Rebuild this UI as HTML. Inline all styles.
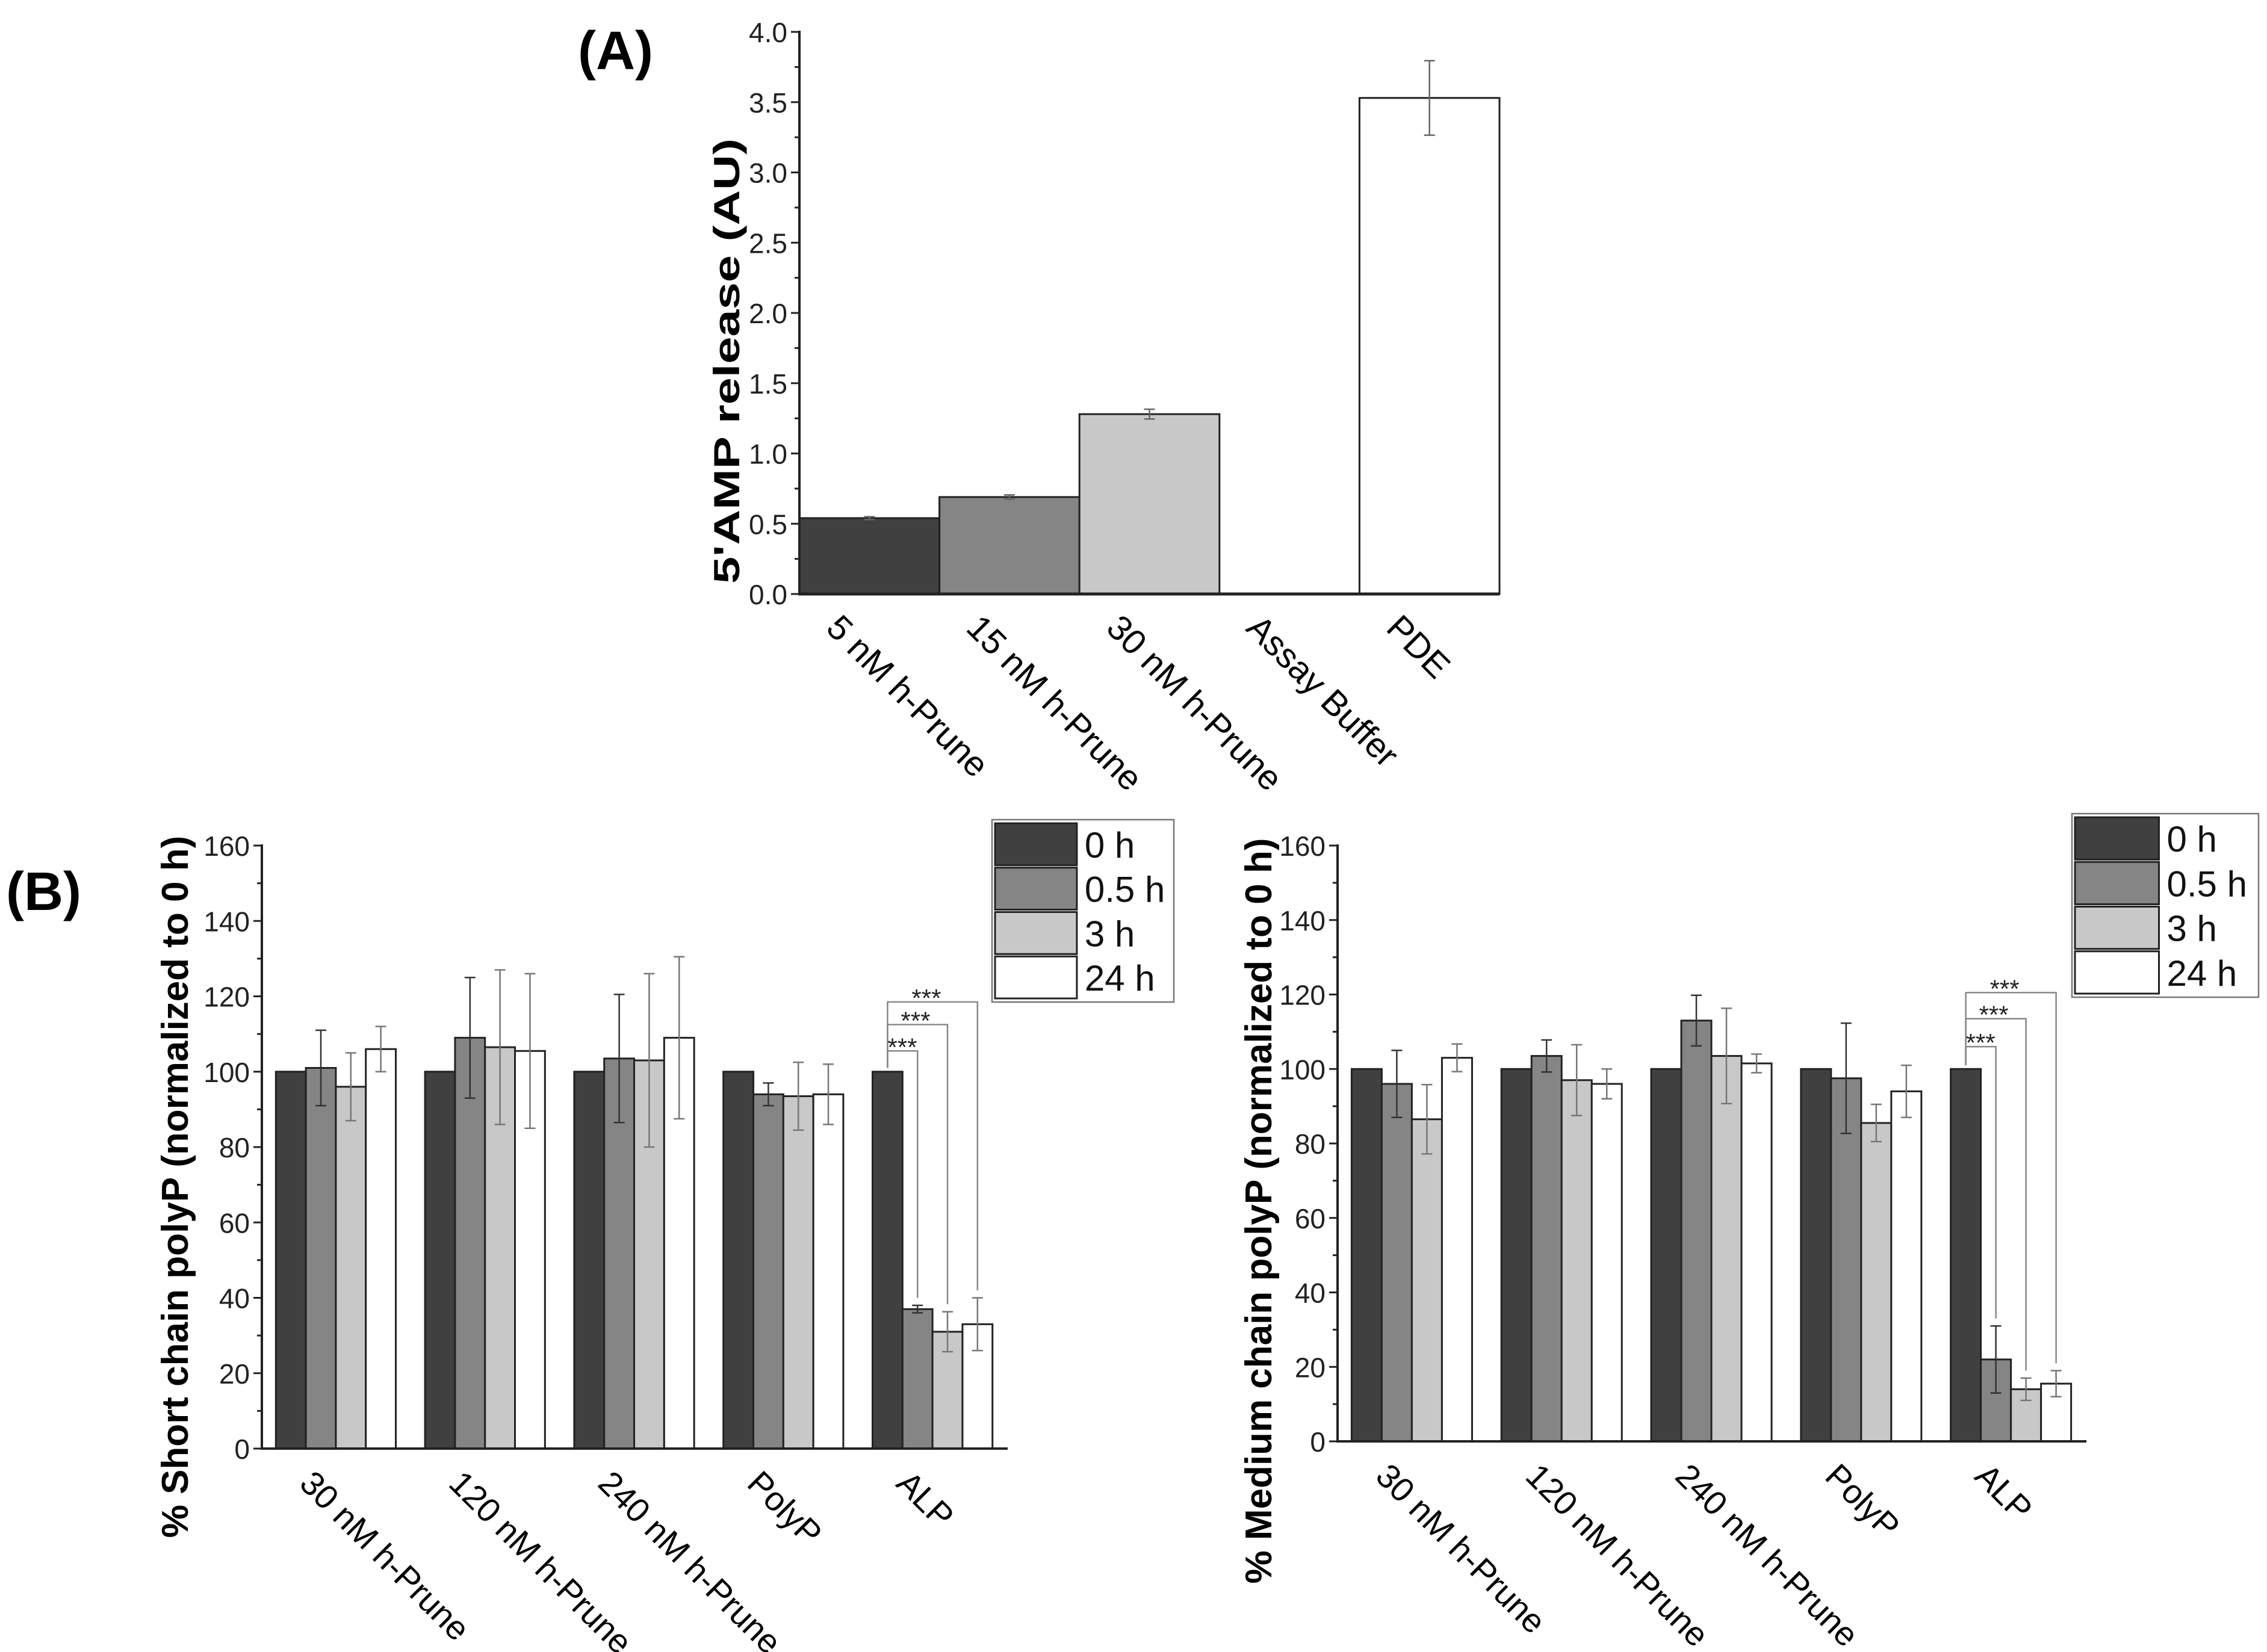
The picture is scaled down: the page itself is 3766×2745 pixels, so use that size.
<!DOCTYPE html>
<html><head><meta charset="utf-8">
<style>
html,body{margin:0;padding:0;background:#fff;}
svg{display:block;font-family:"Liberation Sans",Arial,sans-serif;}
</style></head>
<body>
<svg id="fig" width="3766" height="2745" viewBox="0 0 3766 2745" xmlns="http://www.w3.org/2000/svg">
<rect width="3766" height="2745" fill="#fff"/>
<text x="960" y="115" font-size="90" font-weight="bold">(A)</text>
<text x="10" y="1512" font-size="90" font-weight="bold">(B)</text>
<g id="chartA"></g>
<g id="chartB1"></g>
<g id="chartB2"></g>
</svg>
<script>
// Panel A data
const aCategories = ["5 nM h-Prune","15 nM h-Prune","30 nM h-Prune","Assay Buffer","PDE"];
const aValues = [0.54, 0.69, 1.28, 0, 3.53];
const aErrors = [0.01, 0.015, 0.035, 0, 0.265];
const aTicks = ["0.0","0.5","1.0","1.5","2.0","2.5","3.0","3.5","4.0"];

// Panel B data
const bCategories = ["30 nM h-Prune","120 nM h-Prune","240 nM h-Prune","PolyP","ALP"];
const bSeries = ["0 h","0.5 h","3 h","24 h"];
const shortVals0 = [100,100,100,100,100];
const shortVals05 = [101,109,103.5,94,37];
const shortVals3 = [96,106.5,103,93.5,31];
const shortVals24 = [106,105.5,109,94,33];
const shortErr05 = [10,16,17,3,1];
const shortErr3 = [9,20.5,23,9,5.3];
const shortErr24 = [6,20.5,21.5,8,7];
const shortSig = [105.5,112.5,118.5];
const medVals0 = [100,100,100,100,100];
const medVals05 = [96,103.5,113,97.5,22];
const medVals3 = [86.5,97,103.5,85.5,14];
const medVals24 = [103,96,101.5,94,15.5];
const medErr05 = [9,4.3,6.8,14.8,9];
const medErr3 = [9.3,9.5,12.8,5,3];
const medErr24 = [3.7,4,2.5,7,3.5];
const medSig = [106,113.5,120.5];
const bTicks = ["0","20","40","60","80","100","120","140","160"];

const NS="http://www.w3.org/2000/svg";
function mk(parent, tag, attrs){const e=document.createElementNS(NS,tag);for(const k in attrs)e.setAttribute(k,attrs[k]);parent.appendChild(e);return e;}
const fills=["#404040","#858585","#c8c8c8","#ffffff"];

// ---------- Panel A ----------
(function(){
  const g=document.getElementById('chartA');
  const x0=1328,x1=2491,y0=987,yTop=53,ymax=4;
  const ys=v=>y0-(v/ymax)*(y0-yTop);
  const bw=(x1-x0)/aCategories.length;
  aValues.forEach((v,i)=>{
    const bx=x0+i*bw;
    if(v>0){
      const r=mk(g,'rect',{x:bx,y:ys(v),width:bw,height:y0-ys(v),fill:fills[Math.min(i,3)],stroke:"#222","stroke-width":3});
      if(i===4) r.setAttribute('fill','#fff');
      
      
    }
    const e=aErrors[i];
    if(e>0){
      const cx=bx+bw/2;
      const eg=mk(g,'g',{stroke:"#666","stroke-width":2.5});
      
      
      mk(eg,'line',{x1:cx,x2:cx,y1:ys(v+e),y2:ys(v-e)});
      mk(eg,'line',{x1:cx-9,x2:cx+9,y1:ys(v+e),y2:ys(v+e)});
      mk(eg,'line',{x1:cx-9,x2:cx+9,y1:ys(v-e),y2:ys(v-e)});
    }
    const lx=bx+bw/2-45, ly=y0+30;
    const t=mk(g,'text',{x:lx,y:ly,"font-size":58,transform:`rotate(45 ${lx} ${ly})`,"dominant-baseline":"hanging"});
    t.textContent=aCategories[i];
    
    
  });
  mk(g,'line',{x1:x0,y1:yTop-2,x2:x0,y2:y0+2,stroke:"#222","stroke-width":4});
  mk(g,'line',{x1:x0-2,y1:y0,x2:x1,y2:y0,stroke:"#222","stroke-width":5});
  aTicks.forEach((lab,i)=>{
    const v=i*0.5,y=ys(v);
    mk(g,'line',{x1:x0-14,x2:x0,y1:y,y2:y,stroke:"#222","stroke-width":3});
    if(i<aTicks.length-1) mk(g,'line',{x1:x0-8,x2:x0,y1:ys(v+0.25),y2:ys(v+0.25),stroke:"#222","stroke-width":3});
    const t=mk(g,'text',{x:x0-20,y:y+17,"font-size":46,"text-anchor":"end",fill:"#222"});
    t.textContent=lab;
    
    
  });
  const tt=mk(g,'text',{x:0,y:0,"font-size":60,"font-weight":"bold","text-anchor":"middle",textLength:740,lengthAdjust:"spacingAndGlyphs",transform:`translate(1228 600) rotate(-90)`});
  tt.textContent="5'AMP release (AU)";
  
  
})();

// ---------- Panel B ----------
function drawB(id,cfg){
  const g=document.getElementById(id);
  const {x0,x1,y0,yTop,vals,errs,sig,title,titleX,titleY,legX,legY,legW,legH}=cfg;
  const ys=v=>y0-(v/160)*(y0-yTop);
  const gw=(x1-x0)/bCategories.length;
  const off=gw*0.094, bw=gw*0.201;
  bCategories.forEach((c,i)=>{
    const gx=x0+i*gw;
    vals.forEach((arr,s)=>{
      const bx=gx+off+s*bw, v=arr[i];
      const r=mk(g,'rect',{x:bx,y:ys(v),width:bw,height:y0-ys(v),fill:fills[s],stroke:"#222","stroke-width":3});
      
      
      if(s>0){
        const e=errs[s-1][i],cx=bx+bw/2;
        const eg=mk(g,'g',{stroke:s===1?"#333":"#777","stroke-width":2.5});
        
        
        mk(eg,'line',{x1:cx,x2:cx,y1:ys(v+e),y2:ys(v-e)});
        mk(eg,'line',{x1:cx-9,x2:cx+9,y1:ys(v+e),y2:ys(v+e)});
        mk(eg,'line',{x1:cx-9,x2:cx+9,y1:ys(v-e),y2:ys(v-e)});
      }
    });
    const lx=gx+gw/2-35, ly=y0+32;
    const t=mk(g,'text',{x:lx,y:ly,"font-size":56,transform:`rotate(45 ${lx} ${ly})`,"dominant-baseline":"hanging"});
    t.textContent=c;
    
    
  });
  const gx=x0+4*gw, c0=gx+off+bw*0.5;
  const sg=mk(g,'g',{stroke:"#888","stroke-width":2.5,fill:"none"});
  
  
  for(let s=1;s<=3;s++){
    const lvl=sig[s-1], cx=gx+off+s*bw+bw/2;
    const top=vals[s][4]+errs[s-1][4]+2;
    mk(sg,'polyline',{points:`${c0},${ys(101)} ${c0},${ys(lvl)} ${cx},${ys(lvl)} ${cx},${ys(top)}`});
    const t=mk(g,'text',{x:c0+(s===1?0:(s===2?22:40)),y:ys(lvl)+8,"font-size":42,fill:"#222"});
    t.textContent="***";
    
    
  }
  mk(g,'line',{x1:x0,y1:yTop-2,x2:x0,y2:y0+2,stroke:"#222","stroke-width":4});
  mk(g,'line',{x1:x0-2,y1:y0,x2:x1,y2:y0,stroke:"#222","stroke-width":4});
  bTicks.forEach((lab,i)=>{
    const v=i*20,y=ys(v);
    mk(g,'line',{x1:x0-14,x2:x0,y1:y,y2:y,stroke:"#222","stroke-width":3});
    if(i<bTicks.length-1) mk(g,'line',{x1:x0-8,x2:x0,y1:ys(v+10),y2:ys(v+10),stroke:"#222","stroke-width":3});
    const t=mk(g,'text',{x:x0-20,y:y+17,"font-size":46,"text-anchor":"end",fill:"#222"});
    t.textContent=lab;
    
    
  });
  const tt=mk(g,'text',{x:0,y:0,"font-size":62,"font-weight":"bold","text-anchor":"middle",transform:`translate(${titleX} ${titleY}) rotate(-90)`});
  tt.textContent=title;
  
  
  const lg=mk(g,'g',{});
  
  
  mk(lg,'rect',{x:legX,y:legY,width:legW,height:legH,fill:"#fff",stroke:"#777","stroke-width":2.5});
  const eh=(legH-8)/4;
  bSeries.forEach((s,i)=>{
    const ey=legY+4+i*eh;
    const sw=mk(lg,'rect',{x:legX+5,y:ey+2,width:legW*0.45,height:eh-4,fill:fills[i],stroke:"#222","stroke-width":3});
    
    
    const t=mk(lg,'text',{x:legX+legW*0.45+18,y:ey+eh/2+22,"font-size":60,fill:"#111"});
    t.textContent=s;
    
    
  });
}
drawB('chartB1',{x0:435,x1:1674,y0:2407,yTop:1405,
  vals:[shortVals0,shortVals05,shortVals3,shortVals24],errs:[shortErr05,shortErr3,shortErr24],sig:shortSig,
  title:"% Short chain polyP (normalized to 0 h)",titleX:312,titleY:1972,legX:1648,legY:1362,legW:302,legH:303});
drawB('chartB2',{x0:2222,x1:3466,y0:2395,yTop:1405,
  vals:[medVals0,medVals05,medVals3,medVals24],errs:[medErr05,medErr3,medErr24],sig:medSig,
  title:"% Medium chain polyP (normalized to 0 h)",titleX:2112,titleY:2012,legX:3442,legY:1352,legW:310,legH:305});
</script>
</body></html>
